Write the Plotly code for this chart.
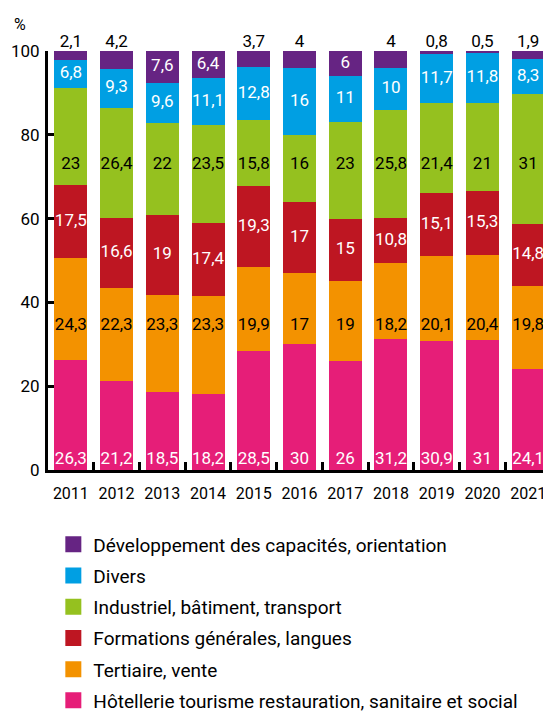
import plotly.graph_objects as go

years = ["2011", "2012", "2013", "2014", "2015", "2016", "2017", "2018", "2019", "2020", "2021"]

hotellerie = [26.3, 21.2, 18.5, 18.2, 28.5, 30, 26, 31.2, 30.9, 31, 24.1]
tertiaire = [24.3, 22.3, 23.3, 23.3, 19.9, 17, 19, 18.2, 20.1, 20.4, 19.8]
formations = [17.5, 16.6, 19, 17.4, 19.3, 17, 15, 10.8, 15.1, 15.3, 14.8]
industriel = [23, 26.4, 22, 23.5, 15.8, 16, 23, 25.8, 21.4, 21, 31]
divers = [6.8, 9.3, 9.6, 11.1, 12.8, 16, 11, 10, 11.7, 11.8, 8.3]
developpement = [2.1, 4.2, 7.6, 6.4, 3.7, 4, 6, 4, 0.8, 0.5, 1.9]

names = [
    "Hôtellerie tourisme restauration, sanitaire et social",
    "Tertiaire, vente",
    "Formations générales, langues",
    "Industriel, bâtiment, transport",
    "Divers",
    "Développement des capacités, orientation",
]
colors = ["#e61e78", "#f39200", "#be1622", "#95c11f", "#009fe3", "#662483"]
label_colors = ["white", "black", "white", "black", "white", "white"]

FONT = "Roboto, Liberation Sans, sans-serif"

series = [hotellerie, tertiaire, formations, industriel, divers, developpement]


def fmt(v):
    return f"{v:g}".replace(".", ",")


fig = go.Figure()

# stacked bars
for vals, name, col in zip(series, names, colors):
    fig.add_trace(go.Bar(
        x=years, y=vals, name=name, marker_color=col,
        marker_line_width=0, showlegend=False, hoverinfo="skip",
    ))

# value labels, one text trace per series
base = [0.0] * len(years)
for i, vals in enumerate(series):
    xs, ys, txt, pos, tcol = [], [], [], [], []
    for j, v in enumerate(vals):
        lo, hi = base[j], base[j] + v
        c = label_colors[i]
        if i == 0:
            y, p = lo + 0.5, "top center"
        elif i == 1:
            y, p = 34.4, "middle center"
        elif i == 3:
            y, p = 72.8, "middle center"
        elif i == 5 and v < 5:
            y, p, c = 100, "top center", "black"
        else:
            y, p = (lo + hi) / 2, "middle center"
        xs.append(years[j])
        ys.append(y)
        txt.append(fmt(v))
        pos.append(p)
        tcol.append(c)
        base[j] = hi
    fig.add_trace(go.Scatter(
        x=xs, y=ys, text=txt, mode="text", textposition=pos,
        textfont=dict(family=FONT, size=17, color=tcol),
        showlegend=False, hoverinfo="skip", cliponaxis=False,
    ))

# legend entries, top to bottom
for name, col in zip(names[::-1], colors[::-1]):
    fig.add_trace(go.Scatter(
        x=[None], y=[None], mode="markers", name=name,
        marker=dict(symbol="square", size=16, color=col),
        legendgroup=name, showlegend=True,
    ))

fig.add_annotation(
    xref="paper", yref="paper", x=-0.055, y=1.0, yshift=27,
    xanchor="center", yanchor="middle",
    text="%", showarrow=False, font=dict(family=FONT, size=16, color="black"),
)

# the page adds an 8px body margin, so the figure is 8px smaller
fig.update_layout(
    width=543, height=705,
    barmode="stack", bargap=0.28,
    plot_bgcolor="white", paper_bgcolor="white",
    margin=dict(l=40, r=0, t=43, b=243, autoexpand=False),
    font=dict(family=FONT, size=16, color="black"),
    legend=dict(
        traceorder="grouped", tracegroupgap=3.5,
        x=0.0106, y=-0.1325, xanchor="left", yanchor="top",
        font=dict(family=FONT, size=19, color="black"),
        itemclick=False,
    ),
)
fig.update_xaxes(
    type="category", range=[-0.5, 10.5],
    showline=True, linecolor="black", linewidth=3,
    ticks="inside", tickson="boundaries", ticklen=8, tickwidth=3, tickcolor="black",
    showgrid=False, tickfont=dict(family=FONT, size=16), tickangle=0,
    ticklabelstandoff=7,
)
fig.update_yaxes(
    range=[0, 100], dtick=20,
    showline=True, linecolor="black", linewidth=3,
    ticks="inside", ticklen=6, tickwidth=3, tickcolor="black",
    showgrid=False, zeroline=False, tickfont=dict(family=FONT, size=17),
    ticklabelstandoff=2,
)

fig.write_html("out.html")
